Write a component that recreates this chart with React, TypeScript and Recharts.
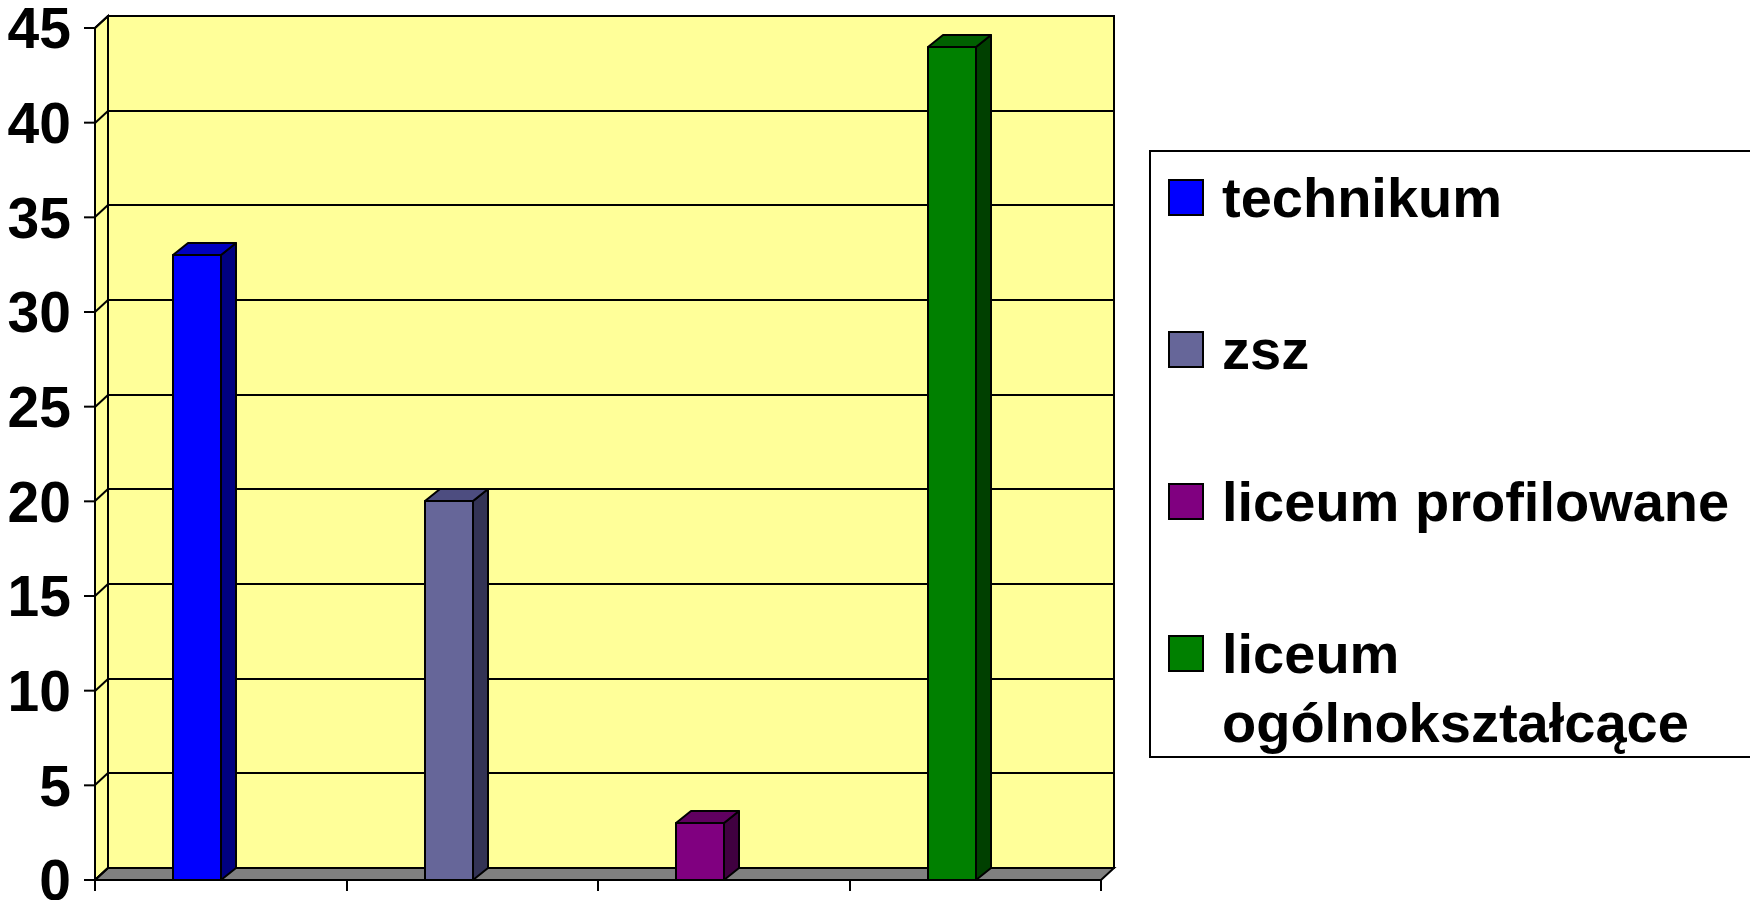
import { BarChart, Bar, XAxis, YAxis, ReferenceArea, Legend, Cell } from "recharts";

const categories = ["technikum", "zsz", "liceum profilowane", "liceum ogólnokształcące"];
const values = [33, 20, 3, 44];
const yTicks = [0, 5, 10, 15, 20, 25, 30, 35, 40, 45];

const frontColors = ["#0000FF", "#666699", "#800080", "#008000"];
const topColors = ["#0000C0", "#4D4D80", "#600060", "#006000"];
const sideColors = ["#000080", "#333355", "#400040", "#004000"];

const data = categories.map((name, i) => ({ name, value: values[i] }));

const FONT = "'Liberation Sans', Arial, sans-serif";
const Y_MAX = 45;
// depth of the fake 3D walls / boxes
const DX = 13;
const DY = 12;
const TICK = 11;

function Walls(props: any) {
  const x = Math.round(props.x);
  const y = Math.round(props.y);
  const x1 = Math.round(props.x + props.width);
  const yBot = Math.round(props.y + props.height);
  const toY = (v: number) => Math.round(props.y + props.height * (1 - v / Y_MAX));
  return (
    <g>
      {/* back wall */}
      <rect x={x + DX} y={y - DY} width={x1 - x} height={yBot - y} fill="#FFFF99" stroke="#000" strokeWidth={2} />
      {/* left side wall */}
      <polygon
        points={`${x},${y} ${x + DX},${y - DY} ${x + DX},${yBot - DY} ${x},${yBot}`}
        fill="#FFFF99"
        stroke="#000"
        strokeWidth={2}
      />
      {/* floor */}
      <polygon
        points={`${x},${yBot} ${x + DX},${yBot - DY} ${x1 + DX},${yBot - DY} ${x1},${yBot}`}
        fill="#808080"
        stroke="#000"
        strokeWidth={2}
      />
      {yTicks.map((v) => {
        const py = toY(v);
        return (
          <g key={v}>
            <line x1={x} y1={py} x2={x + DX} y2={py - DY} stroke="#000" strokeWidth={2} />
            {v > 0 && v < Y_MAX && (
              <line x1={x + DX} y1={py - DY} x2={x1 + DX} y2={py - DY} stroke="#000" strokeWidth={2} />
            )}
          </g>
        );
      })}
    </g>
  );
}

// tick marks sit on the category boundaries, not centres
function BoundaryTick(props: any) {
  const { x, y, payload, index } = props;
  const half = payload && typeof payload.offset === "number" && payload.offset > 0 ? payload.offset : 125.75;
  const top = y - TICK;
  const left = Math.round(x - half);
  const right = Math.round(x + half);
  return (
    <g>
      <line x1={left} y1={top} x2={left} y2={y} stroke="#000" strokeWidth={2} />
      {index === categories.length - 1 && (
        <line x1={right} y1={top} x2={right} y2={y} stroke="#000" strokeWidth={2} />
      )}
    </g>
  );
}

function Box3D(props: any) {
  const { width, height, index } = props;
  if (!height || height <= 0) return null;
  const i = typeof index === "number" ? index : Math.max(0, frontColors.indexOf(props.fill));
  const w = Math.round(width);
  const fx = Math.round(props.x - width / 2);
  const y = Math.round(props.y);
  const h = Math.round(props.y + height) - y;
  const bx = 15;
  return (
    <g stroke="#000" strokeWidth={2} strokeLinejoin="round">
      <polygon
        points={`${fx + w},${y} ${fx + w + bx},${y - DY} ${fx + w + bx},${y + h - DY} ${fx + w},${y + h}`}
        fill={sideColors[i]}
      />
      <polygon
        points={`${fx},${y} ${fx + bx},${y - DY} ${fx + w + bx},${y - DY} ${fx + w},${y}`}
        fill={topColors[i]}
      />
      <rect x={fx} y={y} width={w} height={h} fill={frontColors[i]} />
    </g>
  );
}

function LegendBox() {
  return (
    <div
      style={{
        position: "relative",
        width: 700,
        height: 608,
        boxSizing: "border-box",
        border: "2px solid #000",
        background: "#fff",
        fontFamily: FONT,
        fontSize: 56,
        fontWeight: "bold",
        color: "#000",
      }}
    >
      {categories.map((name, i) => (
        <div key={name}>
          <div
            style={{
              position: "absolute",
              left: 17,
              top: 27 + 152 * i,
              width: 36,
              height: 37,
              boxSizing: "border-box",
              border: "2px solid #000",
              background: frontColors[i],
            }}
          />
          <div
            style={{
              position: "absolute",
              left: 71,
              top: 11 + 152 * i,
              width: 530,
              lineHeight: "69px",
              textAlign: "left",
            }}
          >
            {name}
          </div>
        </div>
      ))}
    </div>
  );
}

export default function App() {
  return (
    <div
      style={{
        position: "fixed",
        left: 0,
        top: 0,
        width: 1750,
        height: 900,
        overflow: "hidden",
        background: "#fff",
      }}
    >
      <BarChart
        width={1750}
        height={900}
        data={data}
        margin={{ top: 28, right: 649, bottom: 0, left: 0 }}
      >
        <XAxis
          dataKey="name"
          height={20}
          tickSize={TICK}
          tickMargin={0}
          interval={0}
          tickLine={false}
          axisLine={{ stroke: "#000", strokeWidth: 2 }}
          tick={<BoundaryTick />}
        />
        <YAxis
          domain={[0, Y_MAX]}
          ticks={yTicks}
          width={95}
          tickSize={TICK}
          tickMargin={13}
          interval={0}
          axisLine={{ stroke: "#000", strokeWidth: 2 }}
          tickLine={{ stroke: "#000", strokeWidth: 2 }}
          tick={{ fontSize: 57, fontWeight: "bold", fill: "#000", fontFamily: FONT }}
        />
        <ReferenceArea ifOverflow="visible" zIndex={-50} shape={<Walls />} />
        <Bar dataKey="value" barSize={48} shape={<Box3D />} isAnimationActive={false}>
          {data.map((d, i) => (
            <Cell key={d.name} fill={frontColors[i]} />
          ))}
        </Bar>
        <Legend
          layout="vertical"
          align="center"
          verticalAlign="middle"
          wrapperStyle={{ left: 1149, top: 150, width: 700, height: 608 }}
          content={() => <LegendBox />}
        />
      </BarChart>
    </div>
  );
}
